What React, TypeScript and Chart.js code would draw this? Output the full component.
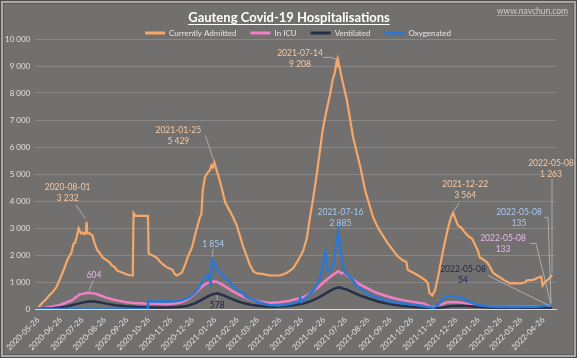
import React, { useEffect, useRef } from 'react';
import { Chart, registerables } from 'chart.js';

Chart.register(...registerables);

const chartTitle = 'Gauteng Covid-19 Hospitalisations';
const watermark = 'www.navchun.com';

const xTickLabels = [
  '2020-05-26', '2020-06-26', '2020-07-26', '2020-08-26', '2020-09-26', '2020-10-26',
  '2020-11-26', '2020-12-26', '2021-01-26', '2021-02-26', '2021-03-26', '2021-04-26',
  '2021-05-26', '2021-06-26', '2021-07-26', '2021-08-26', '2021-09-26', '2021-10-26',
  '2021-11-26', '2021-12-26', '2022-01-26', '2022-02-26', '2022-03-26', '2022-04-26',
];

const yTicks = [0, 1000, 2000, 3000, 4000, 5000, 6000, 7000, 8000, 9000, 10000];

const seriesNames = ['Currently Admitted', 'In ICU', 'Ventilated', 'Oxygenated'];
const seriesColors = ['#f5a868', '#f27fc6', '#263049', '#2b78d4'];
const labelColors = ['#f8c9a2', '#eab6ee', '#1a2750', '#a6c9f0'];

const currentlyAdmitted: [string, number][] = [
  ['2020-05-26', 60], ['2020-05-29', 150], ['2020-06-01', 240], ['2020-06-05', 330],
  ['2020-06-09', 470], ['2020-06-13', 570], ['2020-06-17', 700], ['2020-06-20', 800],
  ['2020-06-24', 1050], ['2020-06-27', 1240], ['2020-07-01', 1500], ['2020-07-05', 1800],
  ['2020-07-08', 1950], ['2020-07-11', 2090], ['2020-07-14', 2430], ['2020-07-16', 2450],
  ['2020-07-18', 2650], ['2020-07-21', 2990], ['2020-07-24', 2800], ['2020-07-26', 2840],
  ['2020-07-29', 2770], ['2020-07-31', 2850], ['2020-08-01', 3232], ['2020-08-02', 2800],
  ['2020-08-05', 2800], ['2020-08-07', 2760], ['2020-08-09', 2730], ['2020-08-12', 2430],
  ['2020-08-16', 2170], ['2020-08-20', 2050], ['2020-08-23', 1910], ['2020-08-29', 1800],
  ['2020-09-02', 1720], ['2020-09-05', 1610], ['2020-09-09', 1550], ['2020-09-12', 1430],
  ['2020-09-19', 1350], ['2020-09-26', 1280], ['2020-09-30', 1250], ['2020-10-03', 1240],
  ['2020-10-04', 1300], ['2020-10-05', 3550], ['2020-10-08', 3450], ['2020-10-25', 3450],
  ['2020-10-26', 2050], ['2020-10-30', 2000], ['2020-11-03', 1950], ['2020-11-06', 1900],
  ['2020-11-10', 1780], ['2020-11-15', 1650], ['2020-11-19', 1560], ['2020-11-24', 1500],
  ['2020-11-28', 1450], ['2020-12-01', 1300], ['2020-12-04', 1240], ['2020-12-08', 1300],
  ['2020-12-11', 1350], ['2020-12-15', 1600], ['2020-12-19', 1910], ['2020-12-22', 2100],
  ['2020-12-25', 2280], ['2020-12-29', 2700], ['2021-01-01', 3020], ['2021-01-05', 3400],
  ['2021-01-07', 3500], ['2021-01-09', 4400], ['2021-01-12', 4880], ['2021-01-16', 5060],
  ['2021-01-19', 5150], ['2021-01-21', 5320], ['2021-01-23', 5250], ['2021-01-25', 5429],
  ['2021-01-28', 5150], ['2021-02-01', 4800], ['2021-02-05', 4400], ['2021-02-09', 3950],
  ['2021-02-13', 3750], ['2021-02-16', 3600], ['2021-02-20', 3400], ['2021-02-25', 3100],
  ['2021-03-01', 2750], ['2021-03-06', 2300], ['2021-03-11', 1950], ['2021-03-15', 1650],
  ['2021-03-20', 1400], ['2021-03-25', 1320], ['2021-04-02', 1300], ['2021-04-12', 1240],
  ['2021-04-26', 1240], ['2021-05-05', 1330], ['2021-05-14', 1500], ['2021-05-21', 1800],
  ['2021-05-28', 2150], ['2021-06-02', 2600], ['2021-06-06', 3300], ['2021-06-11', 4100],
  ['2021-06-16', 5000], ['2021-06-20', 5800], ['2021-06-24', 6600], ['2021-06-29', 7300],
  ['2021-07-04', 7900], ['2021-07-08', 8500], ['2021-07-11', 8750], ['2021-07-13', 9100],
  ['2021-07-14', 9208], ['2021-07-15', 8950], ['2021-07-16', 9150], ['2021-07-18', 8900],
  ['2021-07-21', 8500], ['2021-07-28', 7700], ['2021-08-05', 6400], ['2021-08-15', 5300],
  ['2021-08-22', 4400], ['2021-09-02', 3400], ['2021-09-09', 3000], ['2021-09-16', 2700],
  ['2021-09-22', 2450], ['2021-09-29', 2200], ['2021-10-06', 1950], ['2021-10-13', 1800],
  ['2021-10-18', 1750], ['2021-10-20', 1450], ['2021-10-27', 1350], ['2021-11-03', 1250],
  ['2021-11-09', 1150], ['2021-11-14', 1050], ['2021-11-17', 950], ['2021-11-19', 600],
  ['2021-11-23', 500], ['2021-11-27', 700], ['2021-12-02', 1310], ['2021-12-08', 2170],
  ['2021-12-15', 3020], ['2021-12-19', 3400], ['2021-12-22', 3564], ['2021-12-25', 3340],
  ['2021-12-29', 3080], ['2022-01-02', 3020], ['2022-01-07', 2840], ['2022-01-12', 2700],
  ['2022-01-17', 2610], ['2022-01-21', 2400], ['2022-01-25', 2170], ['2022-01-28', 1910],
  ['2022-02-02', 1830], ['2022-02-07', 1730], ['2022-02-11', 1560], ['2022-02-15', 1350],
  ['2022-02-20', 1250], ['2022-02-25', 1170], ['2022-03-03', 1060], ['2022-03-11', 950],
  ['2022-03-18', 960], ['2022-03-25', 950], ['2022-04-01', 990], ['2022-04-03', 1060],
  ['2022-04-12', 1080], ['2022-04-19', 1170], ['2022-04-23', 1200], ['2022-04-25', 870],
  ['2022-04-28', 1000], ['2022-05-01', 1060], ['2022-05-05', 1150], ['2022-05-08', 1263],
];

const inICU: [string, number][] = [
  ['2020-05-26', 20], ['2020-06-05', 50], ['2020-06-15', 90], ['2020-06-25', 150],
  ['2020-07-05', 250], ['2020-07-12', 330], ['2020-07-18', 450], ['2020-07-22', 540],
  ['2020-07-26', 560], ['2020-07-30', 580], ['2020-08-03', 604], ['2020-08-08', 590],
  ['2020-08-14', 560], ['2020-08-20', 500], ['2020-08-27', 430], ['2020-09-05', 360],
  ['2020-09-15', 300], ['2020-09-25', 250], ['2020-10-05', 220], ['2020-10-20', 200],
  ['2020-11-05', 190], ['2020-11-20', 180], ['2020-12-01', 200], ['2020-12-10', 250],
  ['2020-12-18', 350], ['2020-12-25', 480], ['2021-01-01', 650], ['2021-01-08', 830],
  ['2021-01-15', 960], ['2021-01-22', 1020], ['2021-01-28', 1010], ['2021-02-03', 930],
  ['2021-02-10', 820], ['2021-02-18', 680], ['2021-02-26', 560], ['2021-03-08', 430],
  ['2021-03-18', 330], ['2021-03-30', 270], ['2021-04-12', 230], ['2021-04-25', 250],
  ['2021-05-08', 300], ['2021-05-20', 380], ['2021-05-30', 460], ['2021-06-08', 600],
  ['2021-06-18', 800], ['2021-06-26', 1000], ['2021-07-04', 1180], ['2021-07-10', 1300],
  ['2021-07-16', 1400], ['2021-07-20', 1320], ['2021-07-24', 1350], ['2021-07-28', 1230],
  ['2021-08-05', 1100], ['2021-08-14', 920], ['2021-08-24', 780], ['2021-09-05', 620],
  ['2021-09-18', 500], ['2021-10-01', 400], ['2021-10-15', 320], ['2021-10-30', 250],
  ['2021-11-12', 200], ['2021-11-22', 70], ['2021-12-02', 130], ['2021-12-12', 240],
  ['2021-12-22', 260], ['2022-01-02', 240], ['2022-01-12', 180], ['2022-01-25', 120],
  ['2022-02-10', 90], ['2022-03-01', 70], ['2022-03-25', 80], ['2022-04-15', 95],
  ['2022-05-08', 133],
];

const ventilated: [string, number][] = [
  ['2020-05-26', 5], ['2020-06-15', 30], ['2020-06-30', 70], ['2020-07-10', 130],
  ['2020-07-20', 200], ['2020-07-30', 260], ['2020-08-06', 290], ['2020-08-12', 280],
  ['2020-08-20', 240], ['2020-08-30', 190], ['2020-09-10', 140], ['2020-09-25', 100],
  ['2020-10-10', 70], ['2020-10-30', 60], ['2020-11-20', 60], ['2020-12-05', 70],
  ['2020-12-18', 110], ['2020-12-28', 200], ['2021-01-06', 320], ['2021-01-14', 440],
  ['2021-01-22', 540], ['2021-01-29', 578], ['2021-02-05', 520], ['2021-02-14', 420],
  ['2021-02-24', 310], ['2021-03-06', 220], ['2021-03-18', 150], ['2021-04-01', 100],
  ['2021-04-16', 80], ['2021-05-01', 100], ['2021-05-15', 140], ['2021-05-28', 200],
  ['2021-06-08', 290], ['2021-06-18', 420], ['2021-06-28', 570], ['2021-07-06', 700],
  ['2021-07-13', 780], ['2021-07-17', 800], ['2021-07-22', 760], ['2021-07-28', 720],
  ['2021-08-05', 620], ['2021-08-15', 500], ['2021-08-28', 380], ['2021-09-10', 270],
  ['2021-09-25', 180], ['2021-10-10', 120], ['2021-10-25', 80], ['2021-11-15', 50],
  ['2021-11-25', 30], ['2021-12-08', 60], ['2021-12-20', 110], ['2022-01-05', 120],
  ['2022-01-20', 90], ['2022-02-10', 60], ['2022-03-10', 45], ['2022-04-10', 45],
  ['2022-05-08', 54],
];

const oxygenated: [string, number][] = [
  ['2020-05-26', 0], ['2020-10-24', 0], ['2020-10-25', 280], ['2020-11-10', 290],
  ['2020-11-25', 280], ['2020-12-05', 300], ['2020-12-12', 330], ['2020-12-20', 420],
  ['2020-12-27', 560], ['2021-01-03', 760], ['2021-01-08', 1000], ['2021-01-12', 1180],
  ['2021-01-16', 1250], ['2021-01-18', 1150], ['2021-01-20', 950], ['2021-01-21', 1600],
  ['2021-01-22', 1854], ['2021-01-25', 1650], ['2021-01-29', 1500], ['2021-02-02', 1350],
  ['2021-02-06', 1250], ['2021-02-10', 1100], ['2021-02-14', 1060], ['2021-02-18', 900],
  ['2021-02-22', 800], ['2021-02-26', 720], ['2021-03-04', 620], ['2021-03-10', 450],
  ['2021-03-18', 350], ['2021-03-28', 250], ['2021-04-10', 150], ['2021-04-25', 130],
  ['2021-05-10', 180], ['2021-05-22', 260], ['2021-05-24', 420], ['2021-05-26', 260],
  ['2021-06-05', 520], ['2021-06-12', 700], ['2021-06-18', 1000], ['2021-06-22', 1300],
  ['2021-06-25', 1750], ['2021-06-28', 2100], ['2021-06-30', 1600], ['2021-07-02', 1400],
  ['2021-07-06', 1500], ['2021-07-09', 1650], ['2021-07-12', 2200], ['2021-07-16', 2885],
  ['2021-07-19', 2200], ['2021-07-22', 1650], ['2021-07-25', 1350], ['2021-07-29', 1250],
  ['2021-08-02', 1150], ['2021-08-05', 1080], ['2021-08-10', 850], ['2021-08-17', 720],
  ['2021-08-25', 560], ['2021-09-05', 450], ['2021-09-18', 330], ['2021-10-01', 250],
  ['2021-10-15', 200], ['2021-11-01', 150], ['2021-11-15', 80], ['2021-11-25', 40],
  ['2021-12-03', 200], ['2021-12-10', 420], ['2021-12-15', 470], ['2021-12-25', 460],
  ['2022-01-04', 400], ['2022-01-12', 280], ['2022-01-25', 150], ['2022-02-10', 90],
  ['2022-03-10', 70], ['2022-04-15', 80], ['2022-05-08', 135],
];

const seriesData = [currentlyAdmitted, inICU, ventilated, oxygenated];

// callouts: which series, which date, which value, whether the date is shown
const callouts = [
  { series: 0, date: '2020-08-01', value: 3232, withDate: true },
  { series: 0, date: '2021-01-25', value: 5429, withDate: true },
  { series: 0, date: '2021-07-14', value: 9208, withDate: true },
  { series: 3, date: '2021-07-16', value: 2885, withDate: true },
  { series: 3, date: '2021-01-22', value: 1854, withDate: false },
  { series: 1, date: '2020-08-03', value: 604, withDate: false },
  { series: 2, date: '2021-01-29', value: 578, withDate: false },
  { series: 0, date: '2021-12-22', value: 3564, withDate: true },
  { series: 0, date: '2022-05-08', value: 1263, withDate: true },
  { series: 3, date: '2022-05-08', value: 135, withDate: true },
  { series: 1, date: '2022-05-08', value: 133, withDate: true },
  { series: 2, date: '2022-05-08', value: 54, withDate: true },
];

// placement of each callout relative to its point (pixels)
const calloutLayout: { dx: number; dy: number; leader: [number, number][] }[] = [
  { dx: -19, dy: -34, leader: [[-11, -17], [-1, -3]] },
  { dx: -36, dy: -32, leader: [[-9, -27], [-1, -3]] },
  { dx: -37, dy: -7, leader: [[-14, -3], [-6, -3], [-1, -1]] },
  { dx: 2, dy: -19, leader: [] },
  { dx: 1, dy: -15, leader: [[1, -10], [0, -2]] },
  { dx: 6, dy: -17, leader: [[5, -12], [1, -2]] },
  { dx: 0, dy: 12, leader: [[0, 2], [0, 7]] },
  { dx: 12, dy: -29, leader: [[6, -10], [1, -2]] },
  { dx: -1, dy: -112, leader: [[0, -96], [0, -2]] },
  { dx: -33, dy: -93, leader: [[-8, -88], [-4, -88], [-1, -2]] },
  { dx: -49, dy: -67, leader: [[-22, -62], [-16, -62], [-1, -1]] },
  { dx: -89, dy: -38, leader: [[-64, -32], [-1, -1]] },
];

const dayOf = (s: string) => {
  const [y, m, d] = s.split('-').map(Number);
  return (Date.UTC(y, m - 1, d) - Date.UTC(2020, 4, 26)) / 86400000;
};

const fmt = (n: number) => String(Math.round(n)).replace(/\B(?=(\d{3})+(?!\d))/g, ' ');

const FONT = 'Lato';

const decorPlugin = {
  id: 'decor',
  beforeDraw(chart: any) {
    const { ctx, width, height } = chart;
    ctx.save();
    ctx.fillStyle = '#72706e';
    ctx.fillRect(0, 0, width, height);
    ctx.lineWidth = 1;
    ctx.strokeStyle = '#4f4d4c';
    ctx.strokeRect(0.5, 0.5, width - 1, height - 1);
    ctx.strokeStyle = '#a9a7a5';
    ctx.lineWidth = 2;
    ctx.strokeRect(2, 2, width - 4, height - 4);
    ctx.lineWidth = 1;
    ctx.strokeStyle = '#5e5c5b';
    ctx.strokeRect(3.5, 3.5, width - 7, height - 7);
    ctx.restore();
  },
  afterLayout(chart: any) {
    const lg = chart.legend;
    if (lg) {
      lg.left += 20;
      lg.right += 20;
      lg.top += 8;
      lg.bottom += 8;
    }
  },
  afterDatasetsDraw(chart: any) {
    const { ctx } = chart;
    const xs = chart.scales.x;
    const ys = chart.scales.y;
    ctx.save();
    callouts.forEach((c, i) => {
      const lay = calloutLayout[i];
      const px = xs.getPixelForValue(dayOf(c.date));
      const py = ys.getPixelForValue(c.value);
      if (lay.leader.length) {
        ctx.strokeStyle = '#bdbbb9';
        ctx.lineWidth = 0.8;
        ctx.beginPath();
        lay.leader.forEach(([lx, ly], k) => {
          if (k === 0) ctx.moveTo(px + lx, py + ly);
          else ctx.lineTo(px + lx, py + ly);
        });
        ctx.stroke();
      }
      const lines = c.withDate ? [c.date, fmt(c.value)] : [fmt(c.value)];
      ctx.fillStyle = labelColors[c.series];
      ctx.font = `8.5px ${FONT}`;
      ctx.textAlign = 'center';
      ctx.textBaseline = 'middle';
      lines.forEach((t, k) => ctx.fillText(t, px + lay.dx, py + lay.dy + k * 11));
    });
    ctx.restore();
  },
  afterDraw(chart: any) {
    const { ctx } = chart;
    ctx.save();
    ctx.font = `bold 13px ${FONT}`;
    ctx.fillStyle = '#ffffff';
    ctx.textAlign = 'center';
    ctx.textBaseline = 'alphabetic';
    const cx = 289;
    ctx.fillText(chartTitle, cx, 21.5);
    const w = ctx.measureText(chartTitle).width;
    ctx.strokeStyle = '#ffffff';
    ctx.lineWidth = 1;
    ctx.beginPath();
    ctx.moveTo(cx - w / 2, 24.5);
    ctx.lineTo(cx + w / 2, 24.5);
    ctx.stroke();

    ctx.font = `8.5px ${FONT}`;
    ctx.fillStyle = '#cfcdcb';
    ctx.textAlign = 'right';
    ctx.fillText(watermark, 568, 14);
    const ww = ctx.measureText(watermark).width;
    ctx.strokeStyle = '#bdbbb9';
    ctx.lineWidth = 0.6;
    ctx.beginPath();
    ctx.moveTo(568 - ww, 15.5);
    ctx.lineTo(568, 15.5);
    ctx.stroke();
    ctx.restore();
  },
};

export default function App() {
  const ref = useRef<HTMLCanvasElement>(null);
  useEffect(() => {
    document.body.style.margin = '0';
    const orders = [3, 2, 1, 0];
    const chart = new Chart(ref.current as HTMLCanvasElement, {
      type: 'line',
      data: {
        datasets: seriesData.map((pts, i) => ({
          label: seriesNames[i],
          data: pts.map(([d, v]) => ({ x: dayOf(d), y: v })),
          borderColor: seriesColors[i],
          backgroundColor: seriesColors[i],
          borderWidth: i === 0 ? 2.2 : 2.5,
          pointRadius: 0,
          tension: 0,
          fill: false,
          order: orders[i],
        })),
      },
      options: {
        responsive: false,
        animation: false,
        devicePixelRatio: 1,
        layout: { padding: { top: 7, left: 0, right: 21, bottom: 7 } },
        plugins: {
          title: { display: false },
          tooltip: { enabled: false },
          legend: {
            display: true,
            position: 'top',
            labels: {
              boxWidth: 20,
              boxHeight: 3,
              padding: 14,
              color: '#e6e4e2',
              font: { family: FONT, size: 8 },
              sort: (a: any, b: any) => a.datasetIndex - b.datasetIndex,
              generateLabels: (ch: any) =>
                (Chart.defaults.plugins.legend.labels as any)
                  .generateLabels(ch)
                  .map((l: any) => ({ ...l, lineWidth: 0, fillStyle: l.strokeStyle })),
            },
          },
        },
        scales: {
          x: {
            type: 'linear',
            min: -4.2,
            max: 717.5,
            afterBuildTicks: (axis: any) => {
              axis.ticks = xTickLabels.map((l) => ({ value: dayOf(l) }));
            },
            afterFit: (axis: any) => {
              axis.height = 42;
            },
            ticks: {
              autoSkip: false,
              maxRotation: 45,
              minRotation: 45,
              padding: 6,
              color: '#e2e0de',
              font: { family: FONT, size: 8 },
              callback: (_v: any, i: number) => xTickLabels[i],
            },
            grid: { display: false, drawTicks: false },
            border: { display: true, color: '#dedcda', width: 1 },
          },
          y: {
            type: 'linear',
            min: 0,
            max: 10000,
            afterBuildTicks: (axis: any) => {
              axis.ticks = yTicks.map((v) => ({ value: v }));
            },
            ticks: {
              padding: 5,
              color: '#e2e0de',
              font: { family: FONT, size: 8 },
              callback: (v: any) => fmt(Number(v)),
            },
            grid: { color: 'rgba(255,255,255,0.17)', drawTicks: false, lineWidth: 1 },
            border: { display: false },
          },
        },
      } as any,
      plugins: [decorPlugin as any],
    });
    return () => chart.destroy();
  }, []);
  return (
    <div style={{ width: 577, height: 358, position: 'relative' }}>
      <canvas ref={ref} width={577} height={358} style={{ display: 'block' }} />
    </div>
  );
}
